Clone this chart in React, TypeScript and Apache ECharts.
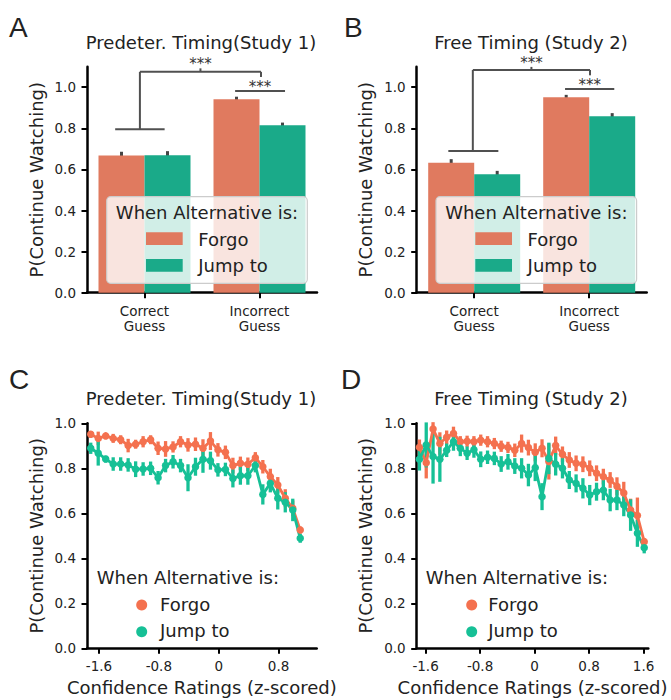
import React, { useEffect, useRef } from 'react';
import * as echarts from 'echarts';

// ---- Panels A / B: proportion of continued watching by guess accuracy ----
const CATEGORIES = ['Correct\nGuess', 'Incorrect\nGuess'];

const STUDY1_FORGO = [0.668, 0.942];
const STUDY1_FORGO_CI = [0.018, 0.012];
const STUDY1_JUMP = [0.669, 0.815];
const STUDY1_JUMP_CI = [0.02, 0.013];

const STUDY2_FORGO = [0.632, 0.951];
const STUDY2_FORGO_CI = [0.018, 0.012];
const STUDY2_JUMP = [0.577, 0.859];
const STUDY2_JUMP_CI = [0.016, 0.015];

const PROB_TICKS = [0, 0.2, 0.4, 0.6, 0.8, 1.0];

// ---- Panels C / D: proportion by z-scored confidence rating ----
const Z_STUDY1 = [
  -1.71, -1.61, -1.51, -1.41, -1.31, -1.21, -1.11, -1.01, -0.91, -0.81,
  -0.71, -0.61, -0.51, -0.41, -0.31, -0.21, -0.11, -0.01, 0.09, 0.19,
  0.29, 0.39, 0.49, 0.59, 0.69, 0.79, 0.89, 0.99, 1.09,
];
const STUDY1_FORGO_Z = [
  0.951, 0.933, 0.944, 0.933, 0.927, 0.901, 0.907, 0.918, 0.927, 0.889,
  0.886, 0.895, 0.918, 0.904, 0.907, 0.889, 0.921, 0.882, 0.871, 0.812,
  0.822, 0.818, 0.847, 0.807, 0.763, 0.726, 0.667, 0.622, 0.526,
];
const STUDY1_FORGO_Z_CI = [
  0.015, 0.03, 0.012, 0.02, 0.02, 0.03, 0.02, 0.025, 0.02, 0.03,
  0.035, 0.025, 0.025, 0.03, 0.03, 0.04, 0.04, 0.03, 0.03, 0.035,
  0.03, 0.03, 0.025, 0.03, 0.035, 0.035, 0.04, 0.035, 0.015,
];
const STUDY1_JUMP_Z = [
  0.889, 0.867, 0.841, 0.819, 0.819, 0.815, 0.796, 0.797, 0.8, 0.758,
  0.812, 0.829, 0.812, 0.758, 0.807, 0.84, 0.834, 0.793, 0.795, 0.755,
  0.767, 0.767, 0.812, 0.684, 0.733, 0.667, 0.649, 0.615, 0.489,
];
const STUDY1_JUMP_Z_CI = [
  0.025, 0.055, 0.015, 0.03, 0.03, 0.03, 0.035, 0.03, 0.03, 0.03,
  0.03, 0.03, 0.03, 0.06, 0.04, 0.06, 0.04, 0.03, 0.03, 0.04,
  0.04, 0.04, 0.03, 0.045, 0.04, 0.05, 0.045, 0.05, 0.02,
];

const Z_STUDY2 = [
  -1.69, -1.59, -1.49, -1.39, -1.29, -1.19, -1.09, -0.99, -0.89, -0.79,
  -0.69, -0.59, -0.49, -0.39, -0.29, -0.19, -0.09, 0.01, 0.11, 0.21,
  0.31, 0.41, 0.51, 0.61, 0.71, 0.81, 0.91, 1.01, 1.11, 1.21,
  1.31, 1.41, 1.51, 1.61,
];
const STUDY2_FORGO_Z = [
  0.893, 0.825, 0.975, 0.91, 0.938, 0.955, 0.918, 0.92, 0.918, 0.925,
  0.918, 0.91, 0.898, 0.893, 0.88, 0.91, 0.892, 0.871, 0.889, 0.83,
  0.901, 0.862, 0.837, 0.822, 0.818, 0.8, 0.778, 0.763, 0.748, 0.72,
  0.69, 0.615, 0.59, 0.474,
];
const STUDY2_FORGO_Z_CI = [
  0.035, 0.07, 0.03, 0.05, 0.03, 0.03, 0.025, 0.025, 0.025, 0.025,
  0.025, 0.025, 0.025, 0.025, 0.03, 0.04, 0.035, 0.04, 0.04, 0.08,
  0.04, 0.035, 0.035, 0.035, 0.035, 0.035, 0.035, 0.035, 0.035, 0.04,
  0.05, 0.05, 0.08, 0.015,
];
const STUDY2_JUMP_Z = [
  0.84, 0.904, 0.852, 0.84, 0.88, 0.918, 0.889, 0.867, 0.882, 0.84,
  0.849, 0.844, 0.819, 0.829, 0.81, 0.8, 0.77, 0.803, 0.674, 0.844,
  0.818, 0.8, 0.748, 0.733, 0.711, 0.681, 0.696, 0.703, 0.659, 0.659,
  0.637, 0.592, 0.511, 0.447,
];
const STUDY2_JUMP_Z_CI = [
  0.05, 0.1, 0.12, 0.1, 0.03, 0.04, 0.035, 0.03, 0.035, 0.035,
  0.03, 0.03, 0.035, 0.035, 0.035, 0.045, 0.05, 0.06, 0.06, 0.07,
  0.05, 0.045, 0.04, 0.04, 0.045, 0.045, 0.04, 0.045, 0.05, 0.045,
  0.05, 0.07, 0.06, 0.025,
];
const Z_TICKS_STUDY1 = [-1.6, -0.8, 0, 0.8];
const Z_TICKS_STUDY2 = [-1.6, -0.8, 0, 0.8, 1.6];

// ---- styling ----
const FONT = '"DejaVu Sans", sans-serif';
const TEXT = '#222222';
const BAR_FORGO = '#E07A5F';
const BAR_JUMP = '#1AAA89';
const LINE_FORGO = '#F4714F';
const LINE_JUMP = '#16C096';
const ERR_GRAY = '#454545';
const BRACKET_GRAY = '#505050';
const BAR_OFFSET = 0.2; // bar centre offset from category centre (bar width 0.4)

type Bracket = {
  left: number; right: number; top: number;
  foot: number; footL: number; footR: number;
  drop: number; tick: number;
  pairL: number; pairR: number; pairY: number;
};

const BRACKET_A: Bracket = {
  left: -0.04, right: 1.013, top: 1.075,
  foot: 0.796, footL: -0.255, footR: 0.175,
  drop: 0.025, tick: 0.017,
  pairL: 0.788, pairR: 1.222, pairY: 0.982,
};
const BRACKET_B: Bracket = {
  left: -0.012, right: 1.007, top: 1.084,
  foot: 0.69, footL: -0.225, footR: 0.21,
  drop: 0.026, tick: 0.015,
  pairL: 0.79, pairR: 1.218, pairY: 0.992,
};

function errorBars(xAxisIndex: number, yAxisIndex: number, xs: number[], means: number[], errs: number[], color: string, width: number) {
  return {
    type: 'custom',
    xAxisIndex,
    yAxisIndex,
    silent: true,
    clip: false,
    encode: { x: 0, y: [1, 2] },
    data: xs.map((x, i) => [x, means[i] - errs[i], means[i] + errs[i]]),
    renderItem: (_p: any, api: any) => {
      const a = api.coord([api.value(0), api.value(1)]);
      const b = api.coord([api.value(0), api.value(2)]);
      return {
        type: 'line',
        shape: { x1: a[0], y1: a[1], x2: b[0], y2: b[1] },
        style: { stroke: color, lineWidth: width },
      };
    },
  };
}

function bracketSeries(xAxisIndex: number, yAxisIndex: number, br: Bracket) {
  return {
    type: 'custom',
    xAxisIndex,
    yAxisIndex,
    silent: true,
    clip: false,
    encode: { x: 0, y: 1 },
    data: [[0, br.top]],
    renderItem: (_p: any, api: any) => {
      const c = (x: number, y: number) => api.coord([x, y]);
      const seg = (p: number[], q: number[]) => ({
        type: 'line',
        shape: { x1: p[0], y1: p[1], x2: q[0], y2: q[1] },
        style: { stroke: BRACKET_GRAY, lineWidth: 2 },
      });
      const mid = (br.left + br.right) / 2;
      const pairMid = (br.pairL + br.pairR) / 2;
      const tickTop = c(mid, br.top + br.tick);
      const pairPt = c(pairMid, br.pairY);
      const stars = (x: number, y: number) => ({
        type: 'text',
        style: {
          text: '***', x, y, align: 'center', verticalAlign: 'middle',
          font: `15px ${FONT}`, fill: '#333333',
        },
      });
      return {
        type: 'group',
        children: [
          seg(c(br.footL, br.foot), c(br.footR, br.foot)),
          seg(c(br.left, br.foot), c(br.left, br.top)),
          seg(c(br.left, br.top), c(br.right, br.top)),
          seg(c(br.right, br.top), c(br.right, br.top - br.drop)),
          seg(c(mid, br.top), tickTop),
          seg(c(br.pairL, br.pairY), c(br.pairR, br.pairY)),
          stars(tickTop[0], tickTop[1] - 4),
          stars(pairPt[0], pairPt[1] - 4),
        ],
      };
    },
  };
}

const axisLineStyle = { lineStyle: { color: '#000', width: 2.5 } };
const tickStyle = { show: true, length: 5.5, lineStyle: { color: '#000', width: 2 } };
const labelStyle = { color: TEXT, fontFamily: FONT, fontSize: 13.5, margin: 11 };

function probAxis(gridIndex: number, max: number) {
  return {
    type: 'value',
    gridIndex,
    min: 0,
    max,
    splitLine: { show: false },
    axisLine: { show: true, onZero: false, ...axisLineStyle },
    axisTick: { ...tickStyle, customValues: PROB_TICKS },
    axisLabel: { ...labelStyle, customValues: PROB_TICKS, formatter: (v: number) => v.toFixed(1) },
    name: 'P(Continue Watching)',
    nameLocation: 'middle',
    nameRotate: 90,
    nameGap: 42,
    nameTextStyle: { color: TEXT, fontFamily: FONT, fontSize: 18 },
  };
}

function categoryAxis(gridIndex: number) {
  return {
    type: 'category',
    gridIndex,
    data: CATEGORIES,
    axisLine: { show: true, onZero: false, ...axisLineStyle },
    axisTick: { ...tickStyle, alignWithLabel: true },
    axisLabel: { ...labelStyle, lineHeight: 15 },
  };
}

function hiddenBandAxis(gridIndex: number) {
  return { type: 'value', gridIndex, min: -0.5, max: 1.5, show: false };
}

function zAxis(gridIndex: number, min: number, max: number, ticks: number[]) {
  return {
    type: 'value',
    gridIndex,
    min,
    max,
    splitLine: { show: false },
    axisLine: { show: true, onZero: false, ...axisLineStyle },
    axisTick: { ...tickStyle, customValues: ticks },
    axisLabel: {
      ...labelStyle,
      customValues: ticks,
      formatter: (v: number) => (Math.abs(v) < 1e-9 ? '0' : v.toFixed(1)),
    },
    name: 'Confidence Ratings (z-scored)',
    nameLocation: 'middle',
    nameGap: 30,
    nameTextStyle: { color: TEXT, fontFamily: FONT, fontSize: 18 },
  };
}

function barSeries(xAxisIndex: number, yAxisIndex: number, name: string, data: number[], color: string) {
  return {
    type: 'bar',
    name,
    xAxisIndex,
    yAxisIndex,
    data,
    barGap: '0%',
    barCategoryGap: '20%',
    itemStyle: { color },
    silent: true,
  };
}

function lineSeries(xAxisIndex: number, yAxisIndex: number, name: string, xs: number[], ys: number[], color: string) {
  return {
    type: 'line',
    name,
    xAxisIndex,
    yAxisIndex,
    data: xs.map((x, i) => [x, ys[i]]),
    symbol: 'circle',
    symbolSize: 7.5,
    showSymbol: true,
    lineStyle: { color, width: 2.8 },
    itemStyle: { color },
    silent: true,
  };
}

function text(str: string, x: number, y: number, size: number, align = 'left', family = FONT) {
  return {
    type: 'text',
    z: 60,
    style: { text: str, x, y, align, verticalAlign: 'middle', font: `${size}px ${family}`, fill: TEXT },
  };
}

function boxedLegend(left: number) {
  const w = 200.6;
  const h = 86.6;
  const top = 196.7;
  return [
    {
      type: 'rect',
      z: 50,
      shape: { x: left, y: top, width: w, height: h, r: 4 },
      style: { fill: 'rgba(255,255,255,0.8)', stroke: '#cccccc', lineWidth: 1.2 },
    },
    text('When Alternative is:', left + w / 2, 212, 18, 'center'),
    { type: 'rect', z: 60, shape: { x: left + 39.3, y: 232.3, width: 36.7, height: 12.7 }, style: { fill: BAR_FORGO } },
    text('Forgo', left + 91.6, 239, 18),
    { type: 'rect', z: 60, shape: { x: left + 39.3, y: 259, width: 36.7, height: 12.7 }, style: { fill: BAR_JUMP } },
    text('Jump to', left + 91.6, 265.6, 18),
  ];
}

function dotLegend(left: number, circleX: number, labelX: number) {
  return [
    text('When Alternative is:', left, 577, 18),
    { type: 'circle', z: 60, shape: { cx: circleX, cy: 605, r: 5.5 }, style: { fill: LINE_FORGO } },
    text('Forgo', labelX, 604, 18),
    { type: 'circle', z: 60, shape: { cx: circleX, cy: 631.7, r: 5.5 }, style: { fill: LINE_JUMP } },
    text('Jump to', labelX, 630.5, 18),
  ];
}

export default function App() {
  const ref = useRef<HTMLDivElement>(null);

  useEffect(() => {
    document.body.style.margin = '0';
    if (!ref.current) return;
    const chart = echarts.init(ref.current, undefined, { renderer: 'svg' });

    const option: any = {
      animation: false,
      backgroundColor: '#ffffff',
      textStyle: { fontFamily: FONT },
      grid: [
        { left: 87, top: 66.7, width: 230, height: 226 },
        { left: 416.7, top: 66.7, width: 230, height: 226 },
        { left: 87, top: 423.3, width: 229.7, height: 225 },
        { left: 416.7, top: 423.3, width: 231.6, height: 225 },
      ],
      xAxis: [
        categoryAxis(0),
        hiddenBandAxis(0),
        categoryAxis(1),
        hiddenBandAxis(1),
        zAxis(2, -1.76, 1.31, Z_TICKS_STUDY1),
        zAxis(3, -1.73, 1.67, Z_TICKS_STUDY2),
      ],
      yAxis: [probAxis(0, 1.1), probAxis(1, 1.1), probAxis(2, 1.0), probAxis(3, 1.0)],
      series: [
        // A
        barSeries(0, 0, 'Forgo', STUDY1_FORGO, BAR_FORGO),
        barSeries(0, 0, 'Jump to', STUDY1_JUMP, BAR_JUMP),
        errorBars(1, 0, [0 - BAR_OFFSET, 1 - BAR_OFFSET], STUDY1_FORGO, STUDY1_FORGO_CI, ERR_GRAY, 3),
        errorBars(1, 0, [0 + BAR_OFFSET, 1 + BAR_OFFSET], STUDY1_JUMP, STUDY1_JUMP_CI, ERR_GRAY, 3),
        bracketSeries(1, 0, BRACKET_A),
        // B
        barSeries(2, 1, 'Forgo', STUDY2_FORGO, BAR_FORGO),
        barSeries(2, 1, 'Jump to', STUDY2_JUMP, BAR_JUMP),
        errorBars(3, 1, [0 - BAR_OFFSET, 1 - BAR_OFFSET], STUDY2_FORGO, STUDY2_FORGO_CI, ERR_GRAY, 3),
        errorBars(3, 1, [0 + BAR_OFFSET, 1 + BAR_OFFSET], STUDY2_JUMP, STUDY2_JUMP_CI, ERR_GRAY, 3),
        bracketSeries(3, 1, BRACKET_B),
        // C
        errorBars(4, 2, Z_STUDY1, STUDY1_FORGO_Z, STUDY1_FORGO_Z_CI, LINE_FORGO, 3.3),
        lineSeries(4, 2, 'Forgo', Z_STUDY1, STUDY1_FORGO_Z, LINE_FORGO),
        errorBars(4, 2, Z_STUDY1, STUDY1_JUMP_Z, STUDY1_JUMP_Z_CI, LINE_JUMP, 3.3),
        lineSeries(4, 2, 'Jump to', Z_STUDY1, STUDY1_JUMP_Z, LINE_JUMP),
        // D
        errorBars(5, 3, Z_STUDY2, STUDY2_FORGO_Z, STUDY2_FORGO_Z_CI, LINE_FORGO, 3.3),
        lineSeries(5, 3, 'Forgo', Z_STUDY2, STUDY2_FORGO_Z, LINE_FORGO),
        errorBars(5, 3, Z_STUDY2, STUDY2_JUMP_Z, STUDY2_JUMP_Z_CI, LINE_JUMP, 3.3),
        lineSeries(5, 3, 'Jump to', Z_STUDY2, STUDY2_JUMP_Z, LINE_JUMP),
      ],
      graphic: [
        // panel letters
        text('A', 9, 27, 28, 'left', '"Liberation Sans", Arial, sans-serif'),
        text('B', 344, 27, 28, 'left', '"Liberation Sans", Arial, sans-serif'),
        text('C', 9, 379, 28, 'left', '"Liberation Sans", Arial, sans-serif'),
        text('D', 341, 379, 28, 'left', '"Liberation Sans", Arial, sans-serif'),
        // panel titles
        text('Predeter. Timing(Study 1)', 201, 42, 18, 'center'),
        text('Free Timing (Study 2)', 531, 42, 18, 'center'),
        text('Predeter. Timing(Study 1)', 201, 398.8, 18, 'center'),
        text('Free Timing (Study 2)', 531, 398.8, 18, 'center'),
        // legends
        ...boxedLegend(106.7),
        ...boxedLegend(436),
        ...dotLegend(96.7, 141.7, 160),
        ...dotLegend(425.7, 471.7, 488.3),
      ],
    };

    chart.setOption(option);
    return () => chart.dispose();
  }, []);

  return <div ref={ref} style={{ width: 671, height: 700 }} />;
}
